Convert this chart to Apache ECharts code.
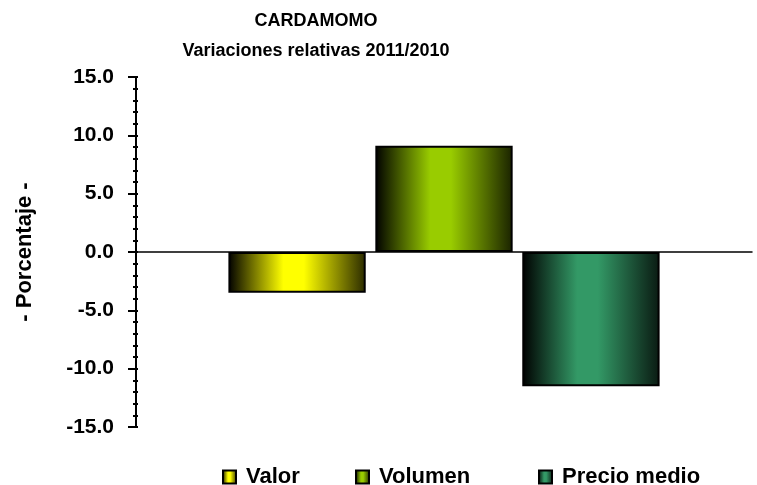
<!DOCTYPE html>
<html>
<head>
<meta charset="utf-8">
<script src="https://cdn.jsdelivr.net/npm/echarts@6/dist/echarts.min.js"></script>
<style>
  html, body { margin: 0; padding: 0; background: #fff; }
  #chart { width: 757px; height: 485px; }
</style>
</head>
<body>
<div id="chart"></div>
<script>
// values
var categories = ['2011/2010'];
var seriesNames = ['Valor', 'Volumen', 'Precio medio'];
var valorData = [-3.5];
var volumenData = [9.1];
var precioData = [-11.5];
var yTicks = { min: -15, max: 15, step: 5 };

var brights = ['#ffff00', '#99cc00', '#339966'];
var edges = ['#2a2a00', '#1a2200', '#0a1a12'];
var legendLefts = [222, 355, 538];

function shade(i) {
    return new echarts.graphic.LinearGradient(0, 0, 1, 0, [
        { offset: 0, color: '#000000' },
        { offset: 0.4, color: brights[i] },
        { offset: 0.55, color: brights[i] },
        { offset: 1, color: edges[i] }
    ]);
}

var font = '"Liberation Sans", Arial, sans-serif';
var myChart = echarts.init(document.getElementById('chart'));

var dataSets = [valorData, volumenData, precioData];
var series = seriesNames.map(function (name, i) {
    return {
        name: name,
        type: 'bar',
        data: dataSets[i],
        barGap: '7%',
        barCategoryGap: '30%',
        itemStyle: { color: shade(i), borderColor: '#000', borderWidth: 2 }
    };
});

// one legend per item so each sits where the reference has it
var legends = seriesNames.map(function (name, i) {
    return {
        data: [name],
        left: legendLefts[i],
        top: 466,
        padding: 0,
        itemWidth: 13,
        itemHeight: 13,
        icon: 'rect',
        textStyle: { fontSize: 22, fontWeight: 'bold', color: '#000', fontFamily: font, padding: [0, 0, 0, 5] }
    };
});

var option = {
    animation: false,
    backgroundColor: '#fff',
    textStyle: { fontFamily: font },
    title: {
        text: 'CARDAMOMO\nVariaciones relativas 2011/2010',
        left: 316,
        top: 6,
        padding: 0,
        textAlign: 'center',
        textStyle: { fontSize: 18, fontWeight: 'bold', color: '#000', lineHeight: 30, fontFamily: font }
    },
    legend: legends,
    grid: { left: 136, right: 5, top: 77, bottom: 58, containLabel: false, outerBoundsMode: 'none' },
    xAxis: {
        type: 'category',
        data: categories,
        axisLine: { show: true, lineStyle: { color: '#000', width: 1.5 } },
        axisTick: { show: false },
        axisLabel: { show: false },
        splitLine: { show: false }
    },
    yAxis: [{
        type: 'value',
        min: yTicks.min,
        max: yTicks.max,
        interval: yTicks.step,
        name: '- Porcentaje -',
        nameLocation: 'middle',
        nameGap: 100,
        nameTextStyle: { fontSize: 22, fontWeight: 'bold', color: '#000', fontFamily: font },
        axisLine: { show: true, lineStyle: { color: '#000', width: 2 } },
        axisTick: { show: true, length: 8, lineStyle: { color: '#000', width: 2 } },
        minorTick: { show: true, splitNumber: 5, length: 3, lineStyle: { color: '#000', width: 2 } },
        axisLabel: {
            margin: 22,
            fontSize: 21,
            fontWeight: 'bold',
            color: '#000',
            fontFamily: font,
            formatter: function (v) { return v.toFixed(1); }
        },
        splitLine: { show: false }
    }, {
        // short inside ticks so that the ticks cross the axis line
        type: 'value',
        position: 'left',
        min: yTicks.min,
        max: yTicks.max,
        interval: yTicks.step,
        axisLine: { show: false },
        axisTick: { show: true, inside: true, length: 2, lineStyle: { color: '#000', width: 2 } },
        minorTick: { show: true, inside: true, splitNumber: 5, length: 2, lineStyle: { color: '#000', width: 2 } },
        axisLabel: { show: false },
        splitLine: { show: false }
    }],
    series: series
};

myChart.setOption(option);
</script>
</body>
</html>
